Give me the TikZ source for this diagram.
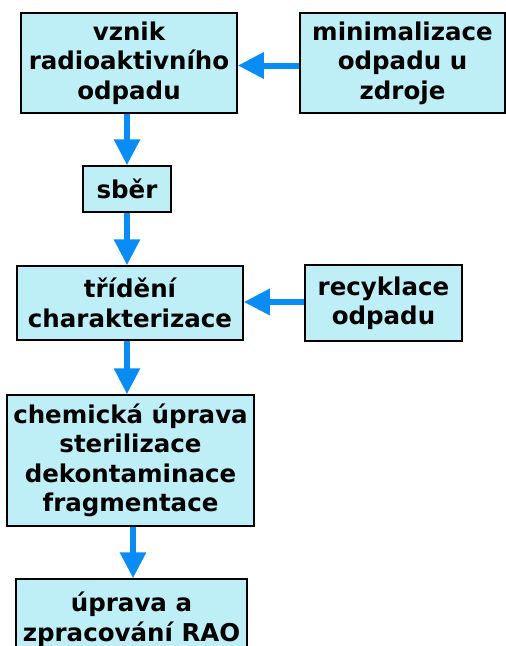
\documentclass[tikz,border=0pt]{standalone}
\usepackage{fontspec}
\setmainfont{DejaVu Sans}
\usetikzlibrary{arrows.meta}
\definecolor{boxfill}{HTML}{BEEEF6}
\definecolor{flowblue}{HTML}{0A8CF5}
\tikzset{
  stepbox/.style={draw=black, line width=1.5pt, fill=boxfill, inner sep=0pt,
    align=center, font=\fontsize{24.5}{29.5}\selectfont\bfseries, text=black},
  flow/.style={draw=flowblue, line width=6pt,
    -{Triangle[length=26pt,width=25pt]}, flowblue},
}
\begin{document}
\begin{tikzpicture}[x=1pt,y=-1pt]
  \useasboundingbox (0,0) rectangle (506,646);
  \fill[white] (0,0) rectangle (506,646);
  \clip (0,0) rectangle (506,646);

  \node[stepbox, minimum width=216pt, minimum height=100pt] (vznik) at (129,63)
    {vznik\\radioaktivního\\odpadu};
  \node[stepbox, minimum width=205pt, minimum height=100pt] (minim) at (402.5,63)
    {minimalizace\\odpadu u\\zdroje};
  \node[stepbox, minimum width=88pt, minimum height=46pt] (sber) at (127,189)
    {sběr};
  \node[stepbox, minimum width=226pt, minimum height=74pt] (trid) at (130,303)
    {třídění\\charakterizace};
  \node[stepbox, minimum width=157pt, minimum height=76pt] (recy) at (383.5,303)
    {recyklace\\odpadu};
  \node[stepbox, minimum width=247pt, minimum height=131pt] (chem) at (130.5,460.5)
    {chemická úprava\\sterilizace\\dekontaminace\\fragmentace};
  \node[stepbox, minimum width=231pt, minimum height=80pt] (upr) at (131.5,619)
    {úprava a\\zpracování RAO};

  % connectors
  \draw[flow] ([yshift=-2.5pt]minim.west) -- ([yshift=-2.5pt]minim.west -| vznik.east);
  \draw[flow] (vznik.south -| sber.north) -- (sber.north);
  \draw[flow] (sber.south) -- (sber.south |- trid.north);
  \draw[flow] ([yshift=1pt]recy.west) -- ([yshift=1pt]recy.west -| trid.east);
  \draw[flow] ([xshift=-3pt]trid.south) -- ([xshift=-3pt]trid.south |- chem.north);
  \draw[flow] ([xshift=2.5pt]chem.south) -- ([xshift=2.5pt]chem.south |- upr.north);
\end{tikzpicture}
\end{document}
